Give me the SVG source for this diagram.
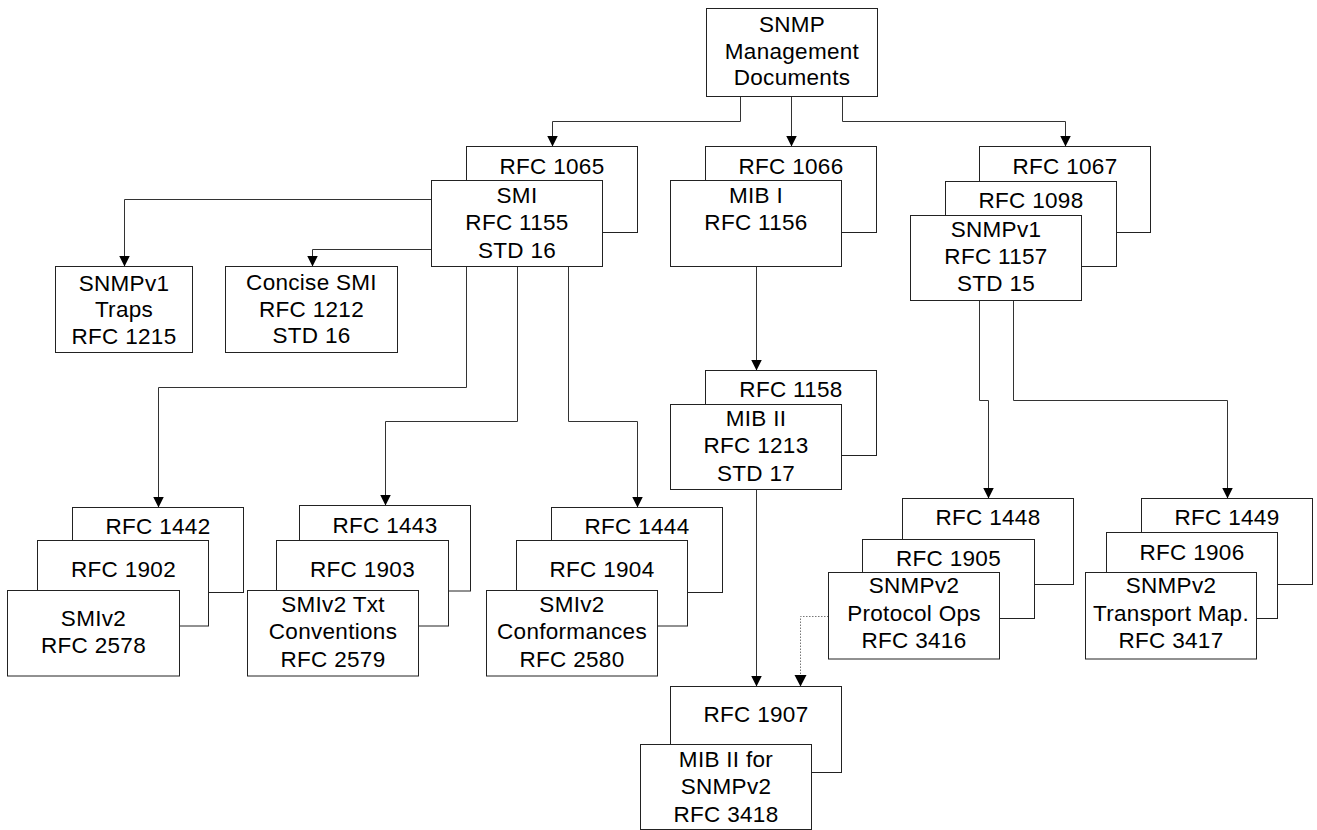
<svg xmlns="http://www.w3.org/2000/svg" width="1317" height="830" viewBox="0 0 1317 830">
<style>
.b{fill:#fff;stroke:#222;stroke-width:1}
.t{font-family:"Liberation Sans",Arial,sans-serif;font-size:22.5px;letter-spacing:0.3px;fill:#000;text-anchor:middle}
.c{fill:none;stroke:#333;stroke-width:1}
.d{fill:none;stroke:#777;stroke-width:1;stroke-dasharray:1.5 1.5}
</style>
<defs>
<marker id="ar" viewBox="0 0 12 12" refX="12" refY="6" markerUnits="userSpaceOnUse" markerWidth="11" markerHeight="12" orient="auto">
<path d="M0,0 L12,6 L0,12 z" fill="#000"/>
</marker>
</defs>
<rect width="1317" height="830" fill="#fff"/>
<g id="connectors">
<path class="c" d="M740.5 96.5 V121.5 H552.5 V146.5" marker-end="url(#ar)"/>
<path class="c" d="M791.5 96.5 V146.5" marker-end="url(#ar)"/>
<path class="c" d="M842.5 96.5 V121.5 H1065.5 V146.5" marker-end="url(#ar)"/>
<path class="c" d="M431.5 199.5 H124.5 V266.5" marker-end="url(#ar)"/>
<path class="c" d="M431.5 249.5 H312.5 V266.5" marker-end="url(#ar)"/>
<path class="c" d="M466.5 266.5 V387.5 H158.5 V507.5" marker-end="url(#ar)"/>
<path class="c" d="M517.5 266.5 V421.5 H385.5 V505.5" marker-end="url(#ar)"/>
<path class="c" d="M568.5 266.5 V421.5 H637.5 V507.5" marker-end="url(#ar)"/>
<path class="c" d="M756.5 266.5 V370.5" marker-end="url(#ar)"/>
<path class="c" d="M756.5 489.5 V686.5" marker-end="url(#ar)"/>
<path class="c" d="M979.5 300.5 V400.5 H988.5 V498.5" marker-end="url(#ar)"/>
<path class="c" d="M1013.5 300.5 V400.5 H1227.5 V498.5" marker-end="url(#ar)"/>
<path class="d" d="M828.5 616.5 H800.5 V686.5"/>
<path d="M794.5 675 L806.5 675 L800.5 686.5 z" fill="#000"/>
</g>
<g id="root">
<rect class="b" x="706.5" y="8.5" width="171" height="88"/>
<text class="t" x="792" y="32">SNMP</text>
<text class="t" x="792" y="58.5">Management</text>
<text class="t" x="792" y="85">Documents</text>
</g>
<g id="smi">
<rect class="b" x="466.5" y="146.5" width="171" height="86"/>
<text class="t" x="552" y="174">RFC 1065</text>
<rect class="b" x="431.5" y="180.5" width="171" height="86"/>
<text class="t" x="517" y="202.5">SMI</text>
<text class="t" x="517" y="230">RFC 1155</text>
<text class="t" x="517" y="257.5">STD 16</text>
</g>
<g id="mib1">
<rect class="b" x="705.5" y="146.5" width="171" height="86"/>
<text class="t" x="791" y="174">RFC 1066</text>
<rect class="b" x="670.5" y="180.5" width="171" height="86"/>
<text class="t" x="756" y="202.5">MIB I</text>
<text class="t" x="756" y="230">RFC 1156</text>
</g>
<g id="snmpv1">
<rect class="b" x="979.5" y="146.5" width="171" height="86"/>
<text class="t" x="1065" y="174.3">RFC 1067</text>
<rect class="b" x="945.5" y="181.5" width="171" height="85"/>
<text class="t" x="1031" y="208.3">RFC 1098</text>
<rect class="b" x="910.5" y="215.5" width="171" height="85"/>
<text class="t" x="996" y="236.7">SNMPv1</text>
<text class="t" x="996" y="264.3">RFC 1157</text>
<text class="t" x="996" y="291">STD 15</text>
</g>
<g id="traps">
<rect class="b" x="55.5" y="266.5" width="137" height="86"/>
<text class="t" x="124" y="290.5">SNMPv1</text>
<text class="t" x="124" y="317">Traps</text>
<text class="t" x="124" y="343.5">RFC 1215</text>
</g>
<g id="concise">
<rect class="b" x="225.5" y="266.5" width="172" height="86"/>
<text class="t" x="311.5" y="290">Concise SMI</text>
<text class="t" x="311.5" y="316.7">RFC 1212</text>
<text class="t" x="311.5" y="343.3">STD 16</text>
</g>
<g id="smiv2">
<rect class="b" x="72.5" y="507.5" width="171" height="85"/>
<text class="t" x="158" y="534">RFC 1442</text>
<rect class="b" x="37.5" y="540.5" width="171" height="85.5"/>
<text class="t" x="123.5" y="576.5">RFC 1902</text>
<rect class="b" x="7.5" y="590.5" width="172" height="85.5"/>
<text class="t" x="93.5" y="626">SMIv2</text>
<text class="t" x="93.5" y="652.7">RFC 2578</text>
</g>
<g id="smiv2tc">
<rect class="b" x="299.5" y="505.5" width="171" height="85.5"/>
<text class="t" x="385" y="532.7">RFC 1443</text>
<rect class="b" x="276.5" y="540.5" width="172" height="85.5"/>
<text class="t" x="362.5" y="576.5">RFC 1903</text>
<rect class="b" x="247.5" y="590.5" width="171" height="85.5"/>
<text class="t" x="333" y="611.7">SMIv2 Txt</text>
<text class="t" x="333" y="639.3">Conventions</text>
<text class="t" x="333" y="666.7">RFC 2579</text>
</g>
<g id="smiv2conf">
<rect class="b" x="551.5" y="507.5" width="171" height="85"/>
<text class="t" x="637" y="534">RFC 1444</text>
<rect class="b" x="516.5" y="540.5" width="171" height="85.5"/>
<text class="t" x="602" y="576.5">RFC 1904</text>
<rect class="b" x="486.5" y="590.5" width="171" height="85.5"/>
<text class="t" x="572" y="611.7">SMIv2</text>
<text class="t" x="572" y="639.3">Conformances</text>
<text class="t" x="572" y="666.7">RFC 2580</text>
</g>
<g id="mib2">
<rect class="b" x="705.5" y="370.5" width="171" height="85"/>
<text class="t" x="791" y="397.3">RFC 1158</text>
<rect class="b" x="670.5" y="404.5" width="171" height="85"/>
<text class="t" x="756" y="425.7">MIB II</text>
<text class="t" x="756" y="453.3">RFC 1213</text>
<text class="t" x="756" y="480.7">STD 17</text>
</g>
<g id="mib2v2">
<rect class="b" x="670.5" y="686.5" width="171" height="86"/>
<text class="t" x="756" y="722.3">RFC 1907</text>
<rect class="b" x="640.5" y="744.5" width="171" height="85"/>
<text class="t" x="726" y="766.7">MIB II for</text>
<text class="t" x="726" y="794.3">SNMPv2</text>
<text class="t" x="726" y="821.7">RFC 3418</text>
</g>
<g id="protoops">
<rect class="b" x="902.5" y="498.5" width="171" height="86"/>
<text class="t" x="988" y="525">RFC 1448</text>
<rect class="b" x="862.5" y="539.5" width="172" height="79"/>
<text class="t" x="948.5" y="565.7">RFC 1905</text>
<rect class="b" x="828.5" y="572.5" width="171" height="86.5"/>
<text class="t" x="914" y="593.3">SNMPv2</text>
<text class="t" x="914" y="620.7">Protocol Ops</text>
<text class="t" x="914" y="648">RFC 3416</text>
</g>
<g id="transport">
<rect class="b" x="1141.5" y="498.5" width="171" height="86"/>
<text class="t" x="1227" y="525">RFC 1449</text>
<rect class="b" x="1106.5" y="532.5" width="171" height="86"/>
<text class="t" x="1192" y="560">RFC 1906</text>
<rect class="b" x="1085.5" y="572.5" width="171" height="86.5"/>
<text class="t" x="1171" y="593.3">SNMPv2</text>
<text class="t" x="1171" y="620.7">Transport Map.</text>
<text class="t" x="1171" y="648">RFC 3417</text>
</g>
</svg>
